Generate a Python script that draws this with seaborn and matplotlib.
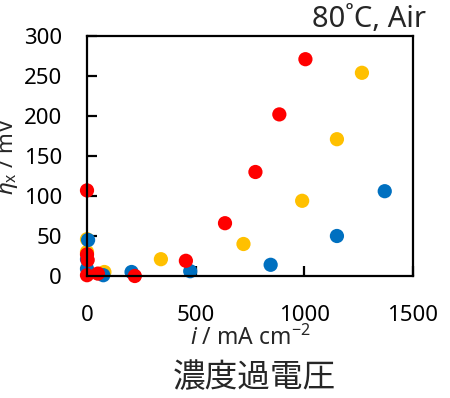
#import libraries
import pandas as pd
import seaborn as sns
import matplotlib.pyplot as plt

#data (i in mA cm-2, eta_x in mV)
i_yellow = [0, 0, 80, 340, 720, 990, 1150, 1265]
eta_yellow = [46, 30, 5, 21, 40, 94, 171, 254]

i_blue = [5, 0, 0, 75, 205, 475, 845, 1150, 1370]
eta_blue = [45, 21, 9, 1, 5, 6, 14, 50, 106]

i_red = [0, 0, 3, 0, 50, 220, 455, 635, 775, 885, 1005]
eta_red = [107, 27, 20, 1, 3, 0, 19, 66, 130, 202, 271]

series = ['yellow', 'blue', 'red']
colors = {'yellow': '#FFC000', 'blue': '#0070C0', 'red': '#FF0000'}

df = pd.concat([
    pd.DataFrame({'i': i_yellow, 'eta': eta_yellow, 'set': 'yellow'}),
    pd.DataFrame({'i': i_blue, 'eta': eta_blue, 'set': 'blue'}),
    pd.DataFrame({'i': i_red, 'eta': eta_red, 'set': 'red'}),
])

sns.set_style('ticks')
plt.rcParams['font.family'] = ['Noto Sans', 'Noto Sans CJK JP', 'DejaVu Sans']
plt.rcParams['mathtext.fontset'] = 'custom'
plt.rcParams['mathtext.it'] = 'Noto Sans:italic'
plt.rcParams['mathtext.rm'] = 'Noto Sans'

fig = plt.figure(figsize=(4.5, 3.98), dpi=100)
ax = fig.add_axes([87 / 450, 1 - 276 / 398, 326 / 450, 240 / 398])

#plot in order so red sits on top
sns.scatterplot(data=df, x='i', y='eta', hue='set', hue_order=series, palette=colors,
                s=105, edgecolor='none', legend=False, clip_on=False, ax=ax)

ax.set_xlim(0, 1500)
ax.set_ylim(0, 300)
ax.set_xticks([0, 500, 1000, 1500])
ax.set_yticks([0, 50, 100, 150, 200, 250, 300])
for s in ax.spines.values():
    s.set_linewidth(1.6)
    s.set_color('black')
ax.tick_params(direction='in', length=7, width=1.6, labelsize=16, colors='black')
ax.tick_params(axis='y', pad=18)
ax.tick_params(axis='x', pad=21)

ax.set_xlabel('$i$ / mA cm$^{\u2212 2}$', fontsize=16.5, labelpad=0)
ax.set_ylabel('$\\eta_{\\mathrm{x}}$ / mV', fontsize=16, labelpad=3)

fig.text(426 / 450, 1 - 27 / 398, '80\u02daC, Air', fontsize=21, ha='right', va='baseline')
fig.text(254 / 450, 1 - 378 / 398, '濃度過電圧', fontsize=23.5, ha='center', va='center',
         family=['Noto Sans CJK JP', 'DejaVu Sans'])

plt.savefig('out.png', dpi=100)
